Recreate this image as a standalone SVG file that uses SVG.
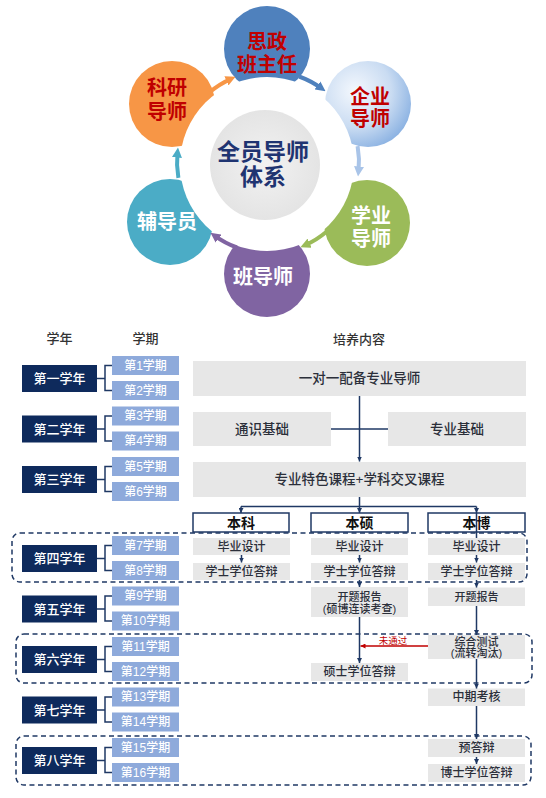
<svg xmlns="http://www.w3.org/2000/svg" width="546" height="798" viewBox="0 0 546 798">
<defs>
<style>
text{font-family:"Liberation Sans","Noto Sans CJK SC",sans-serif;text-anchor:middle;dominant-baseline:central}
.ct{font-size:20px;font-weight:700}
.red{fill:#c00000}
.wh{fill:#fff}
.yr rect{fill:#0e2a5c}
.yr text{fill:#fff;font-size:13px;font-weight:500}
.sm rect{fill:#8eaadb}
.sm text{fill:#fff;font-size:12px;font-weight:500}
.br{fill:none;stroke:#1f3864;stroke-width:1.5}
.g{fill:#e7e7e7}
.gt{fill:#2b2f3a;font-size:13.5px;font-weight:500}
.it{fill:#2b2f3a;font-size:12px;font-weight:500}
.st{fill:#2b2f3a;font-size:11px;font-weight:500}
.bx{fill:#fff;stroke:#1f3864;stroke-width:1.5}
.bt{fill:#111;font-size:14px;font-weight:700}
.ln{fill:none;stroke:#1f3864;stroke-width:1.5}
.ar{marker-end:url(#ah)}
.ds{fill:none;stroke:#1f3864;stroke-width:1.5;stroke-dasharray:5 3.5}
.hd{fill:#333;font-size:13px;font-weight:500}
.arc{fill:none;stroke-width:4}
</style>
<marker id="ah" viewBox="0 0 6 6" markerWidth="5" markerHeight="5" refX="6" refY="3" orient="auto" markerUnits="userSpaceOnUse"><path d="M0,0L6,3L0,6z" fill="#1f3864"/></marker>
<marker id="ahr" viewBox="0 0 6 6" markerWidth="5" markerHeight="5" refX="6" refY="3" orient="auto" markerUnits="userSpaceOnUse"><path d="M0,0L6,3L0,6z" fill="#c00000"/></marker>
<marker id="m1" viewBox="0 0 10 10" markerWidth="10" markerHeight="10" refX="5" refY="5" orient="auto" markerUnits="userSpaceOnUse"><path d="M0,0L10,5L0,10z" fill="#4f81bd"/></marker>
<marker id="m2" viewBox="0 0 10 10" markerWidth="10" markerHeight="10" refX="5" refY="5" orient="auto" markerUnits="userSpaceOnUse"><path d="M0,0L10,5L0,10z" fill="#a9c4e8"/></marker>
<marker id="m3" viewBox="0 0 10 10" markerWidth="10" markerHeight="10" refX="5" refY="5" orient="auto" markerUnits="userSpaceOnUse"><path d="M0,0L10,5L0,10z" fill="#9bbb59"/></marker>
<marker id="m4" viewBox="0 0 10 10" markerWidth="10" markerHeight="10" refX="5" refY="5" orient="auto" markerUnits="userSpaceOnUse"><path d="M0,0L10,5L0,10z" fill="#8064a2"/></marker>
<marker id="m5" viewBox="0 0 10 10" markerWidth="10" markerHeight="10" refX="5" refY="5" orient="auto" markerUnits="userSpaceOnUse"><path d="M0,0L10,5L0,10z" fill="#4bacc6"/></marker>
<marker id="m6" viewBox="0 0 10 10" markerWidth="10" markerHeight="10" refX="5" refY="5" orient="auto" markerUnits="userSpaceOnUse"><path d="M0,0L10,5L0,10z" fill="#f79646"/></marker>
<radialGradient id="lb" cx="35%" cy="35%" r="70%"><stop offset="0" stop-color="#f4f8fd"/><stop offset="0.6" stop-color="#cadcf2"/><stop offset="1" stop-color="#8eb4e3"/></radialGradient>
<radialGradient id="gc" cx="50%" cy="50%" r="50%"><stop offset="0" stop-color="#f2f2f2"/><stop offset="1" stop-color="#e4e4e4"/></radialGradient>
</defs>

<!-- cycle diagram -->
<g id="c-blue"><circle cx="267" cy="49" r="43" fill="#4f81bd"/></g>
<g id="c-lightblue"><circle cx="368" cy="104" r="43" fill="url(#lb)"/></g>
<g id="c-green"><circle cx="367" cy="223" r="43" fill="#9bbb59"/></g>
<g id="c-purple"><circle cx="267" cy="274" r="43" fill="#8064a2"/></g>
<g id="c-teal"><circle cx="170" cy="222" r="43" fill="#4bacc6"/></g>
<g id="c-orange"><circle cx="172" cy="104" r="43" fill="#f79646"/></g>
<circle cx="267" cy="164" r="87" fill="#fff"/>
<g id="cycle-arcs">
<path class="arc" stroke="#4f81bd" d="M299.1,76.5A91,91 0 0 1 321.5,88.4" marker-end="url(#m1)"/>
<path class="arc" stroke="#a9c4e8" d="M357.6,146.2A91,91 0 0 1 358.5,171.5" marker-end="url(#m2)"/>
<path class="arc" stroke="#9bbb59" d="M326.5,231.7A91,91 0 0 1 305,245.2" marker-end="url(#m3)"/>
<path class="arc" stroke="#8064a2" d="M236.9,247.5A91,91 0 0 1 214.5,235.6" marker-end="url(#m4)"/>
<path class="arc" stroke="#4bacc6" d="M178.4,177.8A91,91 0 0 1 177.5,152.5" marker-end="url(#m5)"/>
<path class="arc" stroke="#f79646" d="M209.5,92.3A91,91 0 0 1 231,78.8" marker-end="url(#m6)"/>
</g>
<g id="c-center"><circle cx="265" cy="165" r="55" fill="url(#gc)"/>
<text x="263" y="152" style="font-size:23px;font-weight:700;fill:#1f3471">全员导师</text>
<text x="263" y="177" style="font-size:23px;font-weight:700;fill:#1f3471">体系</text></g>
<g id="t-blue"><text class="ct red" x="267" y="42">思政</text><text class="ct red" x="267" y="65">班主任</text></g>
<g id="t-lightblue"><text class="ct red" x="370" y="97">企业</text><text class="ct red" x="370" y="119">导师</text></g>
<g id="t-green"><text class="ct wh" x="371" y="216">学业</text><text class="ct wh" x="371" y="239">导师</text></g>
<g id="t-purple"><text class="ct wh" x="263" y="277">班导师</text></g>
<g id="t-teal"><text class="ct wh" x="167" y="222">辅导员</text></g>
<g id="t-orange"><text class="ct red" x="167" y="88">科研</text><text class="ct red" x="167" y="112">导师</text></g>

<!-- headers -->
<g id="headers"><text class="hd" x="59.5" y="338">学年</text><text class="hd" x="145.5" y="338">学期</text><text class="hd" x="359" y="339">培养内容</text></g>

<!-- dashed groups -->
<g id="groups">
<rect class="ds" x="12" y="533" width="515" height="49" rx="8"/>
<rect class="ds" x="16" y="634" width="516" height="49" rx="8"/>
<rect class="ds" x="16" y="736" width="515" height="49" rx="8"/>
</g>

<!-- years -->
<g id="y1"><g class="yr"><rect x="22" y="365" width="75" height="27"/><text x="59.5" y="378.5">第一学年</text></g><g class="sm"><rect x="112" y="356" width="67" height="19"/><text x="145.5" y="365.5">第1学期</text><rect x="112" y="381" width="67" height="19"/><text x="145.5" y="390.5">第2学期</text></g><path class="br" d="M97,378.5H105M112,365.5H105V390.5H112"/></g>
<g id="y2"><g class="yr"><rect x="22" y="415.5" width="75" height="27"/><text x="59.5" y="429">第二学年</text></g><g class="sm"><rect x="112" y="406.5" width="67" height="19"/><text x="145.5" y="416">第3学期</text><rect x="112" y="431.5" width="67" height="19"/><text x="145.5" y="441">第4学期</text></g><path class="br" d="M97,429H105M112,416H105V441H112"/></g>
<g id="y3"><g class="yr"><rect x="22" y="466" width="75" height="27"/><text x="59.5" y="479.5">第三学年</text></g><g class="sm"><rect x="112" y="457" width="67" height="19"/><text x="145.5" y="466.5">第5学期</text><rect x="112" y="482" width="67" height="19"/><text x="145.5" y="491.5">第6学期</text></g><path class="br" d="M97,479.5H105M112,466.5H105V491.5H112"/></g>
<g id="y4"><g class="yr"><rect x="22" y="545" width="75" height="27"/><text x="59.5" y="558.5">第四学年</text></g><g class="sm"><rect x="112" y="536" width="67" height="19"/><text x="145.5" y="545.5">第7学期</text><rect x="112" y="561" width="67" height="19"/><text x="145.5" y="570.5">第8学期</text></g><path class="br" d="M97,558.5H105M112,545.5H105V570.5H112"/></g>
<g id="y5"><g class="yr"><rect x="22" y="595.5" width="75" height="27"/><text x="59.5" y="609">第五学年</text></g><g class="sm"><rect x="112" y="586.5" width="67" height="19"/><text x="145.5" y="596">第9学期</text><rect x="112" y="611.5" width="67" height="19"/><text x="145.5" y="621">第10学期</text></g><path class="br" d="M97,609H105M112,596H105V621H112"/></g>
<g id="y6"><g class="yr"><rect x="22" y="646" width="75" height="27"/><text x="59.5" y="659.5">第六学年</text></g><g class="sm"><rect x="112" y="637" width="67" height="19"/><text x="145.5" y="646.5">第11学期</text><rect x="112" y="662" width="67" height="19"/><text x="145.5" y="671.5">第12学期</text></g><path class="br" d="M97,659.5H105M112,646.5H105V671.5H112"/></g>
<g id="y7"><g class="yr"><rect x="22" y="696.5" width="75" height="27"/><text x="59.5" y="710">第七学年</text></g><g class="sm"><rect x="112" y="687.5" width="67" height="19"/><text x="145.5" y="697">第13学期</text><rect x="112" y="712.5" width="67" height="19"/><text x="145.5" y="722">第14学期</text></g><path class="br" d="M97,710H105M112,697H105V722H112"/></g>
<g id="y8"><g class="yr"><rect x="22" y="747" width="75" height="27"/><text x="59.5" y="760.5">第八学年</text></g><g class="sm"><rect x="112" y="738" width="67" height="19"/><text x="145.5" y="747.5">第15学期</text><rect x="112" y="763" width="67" height="19"/><text x="145.5" y="772.5">第16学期</text></g><path class="br" d="M97,760.5H105M112,747.5H105V772.5H112"/></g>

<!-- content nodes -->
<g id="n-tutor"><rect class="g" x="193" y="361" width="333" height="35"/><text class="gt" x="359.5" y="378.5">一对一配备专业导师</text></g>
<g id="n-general"><rect class="g" x="193" y="412" width="138" height="34"/><text class="gt" x="262" y="429">通识基础</text></g>
<g id="n-major"><rect class="g" x="388" y="412" width="138" height="34"/><text class="gt" x="457" y="429">专业基础</text></g>
<g id="n-course"><rect class="g" x="193" y="462" width="333" height="35"/><text class="gt" x="359.5" y="479.5">专业特色课程+学科交叉课程</text></g>
<g id="n-bk"><rect class="bx" x="193" y="513" width="96" height="19"/><text class="bt" x="241" y="522.5">本科</text></g>
<g id="n-bs"><rect class="bx" x="311" y="513" width="97" height="19"/><text class="bt" x="359.5" y="522.5">本硕</text></g>
<g id="n-bb"><rect class="bx" x="428" y="513" width="97" height="19"/><text class="bt" x="476.5" y="522.5">本博</text></g>

<g id="n-bk-design"><rect class="g" x="193" y="538" width="97" height="17"/><text class="it" x="241.5" y="546.5">毕业设计</text></g>
<g id="n-bk-def"><rect class="g" x="193" y="563" width="97" height="17"/><text class="it" x="241.5" y="571.5">学士学位答辩</text></g>
<g id="n-bs-design"><rect class="g" x="311" y="538" width="97" height="17"/><text class="it" x="359.5" y="546.5">毕业设计</text></g>
<g id="n-bs-def"><rect class="g" x="311" y="563" width="97" height="17"/><text class="it" x="359.5" y="571.5">学士学位答辩</text></g>
<g id="n-bb-design"><rect class="g" x="428" y="538" width="97" height="17"/><text class="it" x="476.5" y="546.5">毕业设计</text></g>
<g id="n-bb-def"><rect class="g" x="428" y="563" width="97" height="17"/><text class="it" x="476.5" y="571.5">学士学位答辩</text></g>

<g id="n-bs-open"><rect class="g" x="311" y="587" width="97" height="30"/><text class="st" x="359.5" y="596.5">开题报告</text><text class="st" x="359.5" y="608.5">(硕博连读考查)</text></g>
<g id="n-bb-open"><rect class="g" x="428" y="587.5" width="97" height="18.5"/><text class="st" x="476.5" y="597">开题报告</text></g>
<g id="n-bb-test"><rect class="g" x="428" y="635" width="97" height="24"/><text class="st" x="476.5" y="641.5">综合测试</text><text class="st" x="476.5" y="653">(流转淘汰)</text></g>
<g id="n-bs-master"><rect class="g" x="311" y="663" width="97" height="18"/><text class="it" x="359.5" y="672">硕士学位答辩</text></g>
<g id="n-bb-mid"><rect class="g" x="428" y="688.5" width="97" height="17.5"/><text class="it" x="476.5" y="697">中期考核</text></g>
<g id="n-bb-pre"><rect class="g" x="428" y="739" width="97" height="18"/><text class="it" x="476.5" y="748">预答辩</text></g>
<g id="n-bb-phd"><rect class="g" x="428" y="764" width="97" height="18"/><text class="it" x="476.5" y="773">博士学位答辩</text></g>

<!-- connectors -->
<g id="connectors">
<path class="ln" d="M331,429H388"/>
<path class="ln ar" d="M359.5,396V461.5"/>
<path class="ln" d="M359.5,497V506.5M241,506.5H476.5"/>
<path class="ln ar" d="M241,506.5V513"/>
<path class="ln ar" d="M359.5,506.5V513"/>
<path class="ln ar" d="M476.5,506.5V513"/>
<path class="ln" d="M476.5,513V538"/>
<path class="ln ar" d="M241.5,555V562.5"/>
<path class="ln ar" d="M359.5,555V562.5"/>
<path class="ln ar" d="M476.5,555V562.5"/>
<path class="ln ar" d="M359.5,580V587"/>
<path class="ln ar" d="M476.5,580V587.5"/>
<path class="ln ar" d="M359.5,617V663"/>
<path class="ln ar" d="M476.5,606V635"/>
<path class="ln ar" d="M476.5,659V688.5"/>
<path class="ln ar" d="M476.5,706V739"/>
<path class="ln ar" d="M476.5,757V764"/>
<path fill="none" stroke="#c00000" stroke-width="1.5" marker-end="url(#ahr)" d="M428,646H360.5"/>
<text x="393" y="640" style="font-size:9.5px;fill:#c00000">未通过</text>
</g>
</svg>
